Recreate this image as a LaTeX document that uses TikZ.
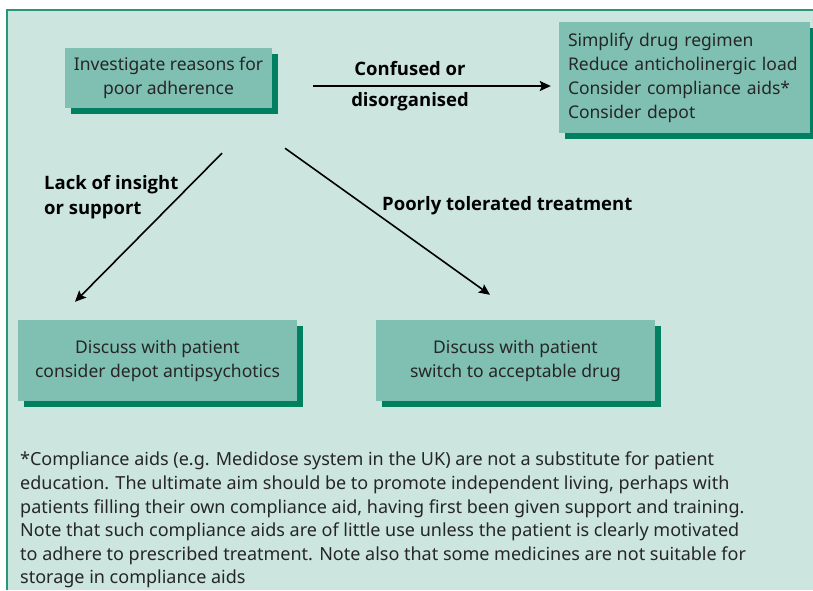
\documentclass[tikz,border=0pt]{standalone}
\usepackage{fontspec}
\setmainfont{Noto Sans}
\newfontfamily\cuefont{Open Sans}
\usetikzlibrary{shadows,arrows.meta}
\definecolor{panelbg}{RGB}{204,230,223}
\definecolor{boxfill}{RGB}{128,192,178}
\definecolor{boxshade}{RGB}{0,128,96}
\definecolor{frameline}{RGB}{40,150,120}
\begin{document}
\begin{tikzpicture}[x=1pt,y=-1pt,
  stepbox/.style={fill=boxfill, inner sep=0pt, text=black!85,
    drop shadow={shadow xshift=6pt, shadow yshift=-6pt, fill=boxshade, opacity=1},
    font=\fontsize{17.5}{24}\selectfont},
  flow/.style={line width=1.6pt, -{Stealth[length=11pt,width=10pt,inset=2pt]}},
  cue/.style={font=\cuefont\bfseries\fontsize{18.5}{25}\selectfont, text=black, inner sep=0pt}
]
\useasboundingbox (0,0) rectangle (813,590);
% panel with its top and left rule
\fill[panelbg] (7,10) rectangle (813,590);
\draw[frameline, line width=1.5pt] (7,590) -- (7,10) -- (813,10);

% boxes
\node[stepbox, minimum width=207pt, minimum height=60pt, align=center] (inv) at (168.5,78)
  {Investigate reasons for\\poor adherence};
\node[stepbox, minimum width=251pt, minimum height=111pt, text width=233pt, align=left] (simp) at (684.5,77.5)
  {Simplify drug regimen\\Reduce anticholinergic load\\Consider compliance aids*\\Consider depot};
\node[stepbox, minimum width=279pt, minimum height=81pt, align=center] (dep) at (157.5,360.5)
  {Discuss with patient\\consider depot antipsychotics};
\node[stepbox, minimum width=279pt, minimum height=81pt, align=center] (sw) at (515.5,360.5)
  {Discuss with patient\\switch to acceptable drug};

% connectors
\draw[flow] ([shift={(41,8)}]inv.east) -- ([shift={(-8,8.5)}]simp.west);
\draw[flow] ([shift={(53.5,45)}]inv.south) -- ([shift={(-82.5,-18)}]dep.north);
\draw[flow] ([shift={(116.5,40)}]inv.south) -- ([shift={(-25.5,-25)}]sw.north);

% connector labels
\node[cue] (l1) at (410,69) {Confused or};
\node[cue] (l2) at (410,101.5) {disorganised};
\node[cue, anchor=west, align=left] (l3) at (44,197) {Lack of insight\\or support};
\node[cue, anchor=west] (l4) at (382,206) {Poorly tolerated treatment};

% footnote
\node[anchor=north west, inner sep=0pt, align=left, text=black!85,
  font=\fontsize{18}{23.6}\selectfont] (note) at (20,452)
  {*Compliance aids (e.g. Medidose system in the UK) are not a substitute for patient\\
   education. The ultimate aim should be to promote independent living, perhaps with\\
   patients filling their own compliance aid, having first been given support and training.\\
   Note that such compliance aids are of little use unless the patient is clearly motivated\\
   to adhere to prescribed treatment. Note also that some medicines are not suitable for\\
   storage in compliance aids};
\end{tikzpicture}
\end{document}
